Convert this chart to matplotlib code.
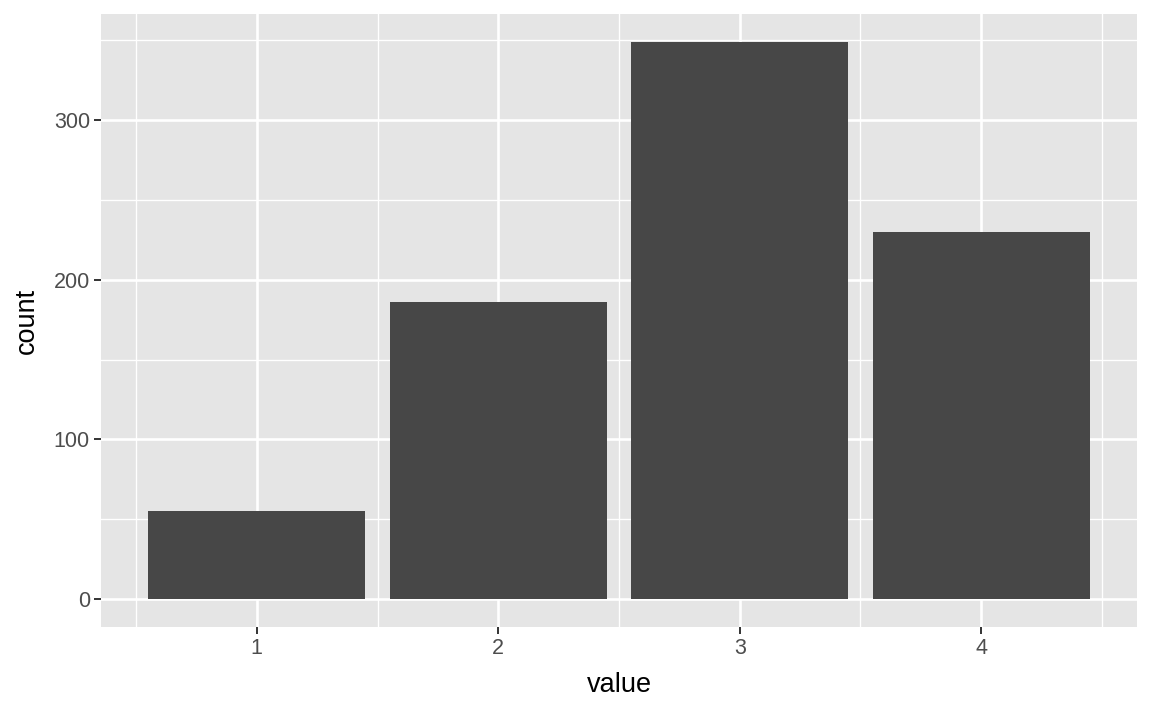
import matplotlib
matplotlib.use("Agg")
import matplotlib.pyplot as plt
from matplotlib.ticker import FixedLocator

values = [1, 2, 3, 4]
counts = [55, 186, 349, 230]
x_ticks = [1, 2, 3, 4]
x_minor = [0.5, 1.5, 2.5, 3.5, 4.5]
y_ticks = [0, 100, 200, 300]
y_minor = [50, 150, 250, 350]

plt.rcParams['font.family'] = ['Liberation Sans', 'DejaVu Sans']

fig = plt.figure(figsize=(11.52, 7.11), dpi=100)
ax = fig.add_axes([101/1152, 1 - 627/711, (1137-101)/1152, (627-14)/711])
ax.set_facecolor('#E5E5E5')

ax.bar(values, counts, width=0.9, color='#474747', zorder=3)

xmin, xmax = 0.55, 4.45
xr = xmax - xmin
ax.set_xlim(xmin - 0.05*xr, xmax + 0.05*xr)
ymax = max(counts)
ax.set_ylim(-0.05*ymax, ymax*1.05)

ax.xaxis.set_major_locator(FixedLocator(x_ticks))
ax.xaxis.set_minor_locator(FixedLocator(x_minor))
ax.yaxis.set_major_locator(FixedLocator(y_ticks))
ax.yaxis.set_minor_locator(FixedLocator(y_minor))
ax.set_xticklabels([str(v) for v in x_ticks])
ax.set_yticklabels([str(v) for v in y_ticks])

ax.grid(which='major', color='white', linewidth=1.9, zorder=1)
ax.grid(which='minor', color='white', linewidth=0.95, zorder=1)
ax.set_axisbelow(True)

for s in ax.spines.values():
    s.set_visible(False)

ax.tick_params(which='major', length=5, width=1.4, color='#333333',
               labelsize=15.5, labelcolor='#4D4D4D', pad=3)
ax.tick_params(which='minor', length=0)

ax.set_xlabel('value', fontsize=19.5, color='black', labelpad=9.5)
ax.set_ylabel('count', fontsize=19.5, color='black', labelpad=10)

fig.savefig('out.png', dpi=100, facecolor='white')
